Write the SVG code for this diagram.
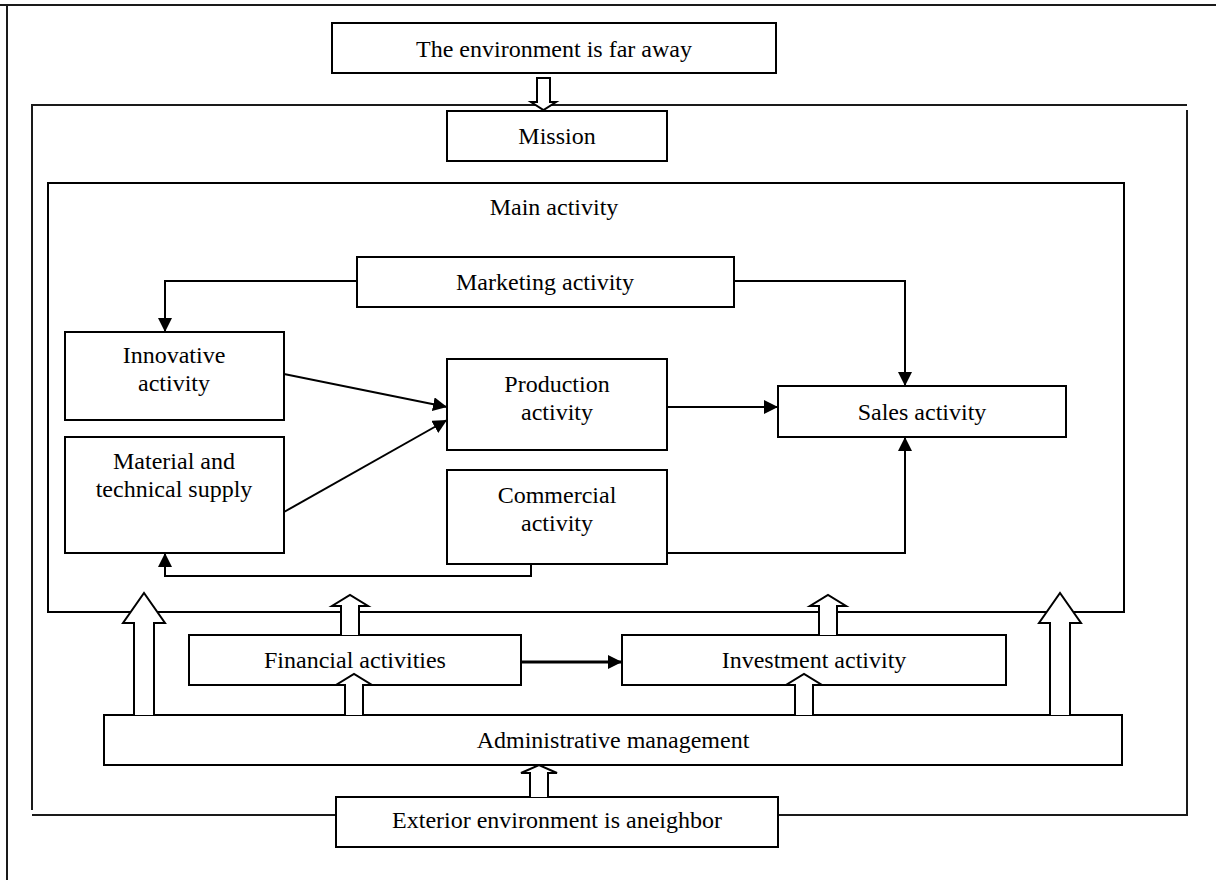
<svg xmlns="http://www.w3.org/2000/svg" width="1216" height="880" viewBox="0 0 1216 880">
<defs>
<style>
.box{fill:#fff;stroke:#000;stroke-width:2}
.frame{fill:none;stroke:#1a1a1a;stroke-width:2}
.t{font-family:"Liberation Serif","Times New Roman",serif;font-size:24px;fill:#000;text-anchor:middle}
.con{fill:none;stroke:#000;stroke-width:2}
.blk{fill:#fff;stroke:#000;stroke-width:2;stroke-linejoin:miter}
</style>
<marker id="ah" viewBox="0 0 14 14" refX="14" refY="7" markerWidth="14" markerHeight="14" markerUnits="userSpaceOnUse" orient="auto">
<path d="M0,0 L14,7 L0,14 z" fill="#000"/>
</marker>
</defs>
<rect width="1216" height="880" fill="#fff"/>
<g id="page-border">
<line x1="0" y1="5" x2="1216" y2="5" class="frame"/>
<line x1="7" y1="5" x2="7" y2="880" class="frame"/>
</g>
<g id="organization-frame">
<polyline points="32,810 32,105 1187,105" class="frame"/>
<polyline points="1187,110 1187,815 32,815" class="frame"/>
</g>
<g id="main-activity">
<rect x="48" y="183" width="1076" height="429" class="box"/>
<text x="554" y="215" class="t">Main activity</text>
</g>
<g id="env-far">
<rect x="332" y="23" width="444" height="50" class="box"/>
<text x="554" y="57" class="t">The environment is far away</text>
</g>
<g id="mission">
<rect x="447" y="111" width="220" height="50" class="box"/>
<text x="557" y="144" class="t">Mission</text>
</g>
<g id="marketing">
<rect x="357" y="257" width="377" height="50" class="box"/>
<text x="545" y="290" class="t">Marketing activity</text>
</g>
<g id="innovative">
<rect x="65" y="332" width="219" height="88" class="box"/>
<text x="174" y="363" class="t">Innovative</text>
<text x="174" y="391" class="t">activity</text>
</g>
<g id="material">
<rect x="65" y="437" width="219" height="116" class="box"/>
<text x="174" y="469" class="t">Material and</text>
<text x="174" y="497" class="t">technical supply</text>
</g>
<g id="production">
<rect x="447" y="359" width="220" height="91" class="box"/>
<text x="557" y="392" class="t">Production</text>
<text x="557" y="420" class="t">activity</text>
</g>
<g id="commercial">
<rect x="447" y="470" width="220" height="94" class="box"/>
<text x="557" y="503" class="t">Commercial</text>
<text x="557" y="531" class="t">activity</text>
</g>
<g id="sales">
<rect x="778" y="386" width="288" height="51" class="box"/>
<text x="922" y="420" class="t">Sales activity</text>
</g>
<g id="financial">
<rect x="189" y="635" width="332" height="50" class="box"/>
<text x="355" y="668" class="t">Financial activities</text>
</g>
<g id="investment">
<rect x="622" y="635" width="384" height="50" class="box"/>
<text x="814" y="668" class="t">Investment activity</text>
</g>
<g id="administrative">
<rect x="104" y="715" width="1018" height="50" class="box"/>
<text x="613" y="748" class="t">Administrative management</text>
</g>
<g id="exterior">
<rect x="336" y="797" width="442" height="50" class="box"/>
<text x="557" y="828" class="t">Exterior environment is aneighbor</text>
</g>
<g id="connectors">
<polyline points="357,281 165,281 165,332" class="con" marker-end="url(#ah)"/>
<polyline points="734,281 905,281 905,386" class="con" marker-end="url(#ah)"/>
<line x1="284" y1="374" x2="447" y2="407" class="con" marker-end="url(#ah)"/>
<line x1="284" y1="512" x2="447" y2="420" class="con" marker-end="url(#ah)"/>
<line x1="667" y1="407" x2="778" y2="407" class="con" marker-end="url(#ah)"/>
<polyline points="667,553 905,553 905,437" class="con" marker-end="url(#ah)"/>
<polyline points="531,564 531,576 165,576 165,553" class="con" marker-end="url(#ah)"/>
<line x1="521" y1="662" x2="622" y2="662" class="con" style="stroke-width:3" marker-end="url(#ah)"/>
<path d="M537,78 L537,102 L531,102 L543.5,110 L556,102 L550,102 L550,78 Z" class="blk"/>
<path d="M134,715 L134,623 L123,623 L144,593 L165,623 L154,623 L154,715" class="blk"/>
<path d="M1050,715 L1050,623 L1039,623 L1060,593 L1081,623 L1070,623 L1070,715" class="blk"/>
<path d="M341,635 L341,606 L332,606 L350,595 L368,606 L359,606 L359,635" class="blk"/>
<path d="M819,635 L819,606 L810,606 L828,595 L846,606 L837,606 L837,635" class="blk"/>
<path d="M345,715 L345,685 L336,685 L354,674 L372,685 L363,685 L363,715" class="blk"/>
<path d="M795,715 L795,685 L786,685 L804,674 L822,685 L813,685 L813,715" class="blk"/>
<path d="M530,797 L530,773 L521,773 L539,765 L557,773 L548,773 L548,797" class="blk"/>
</g>
</svg>
